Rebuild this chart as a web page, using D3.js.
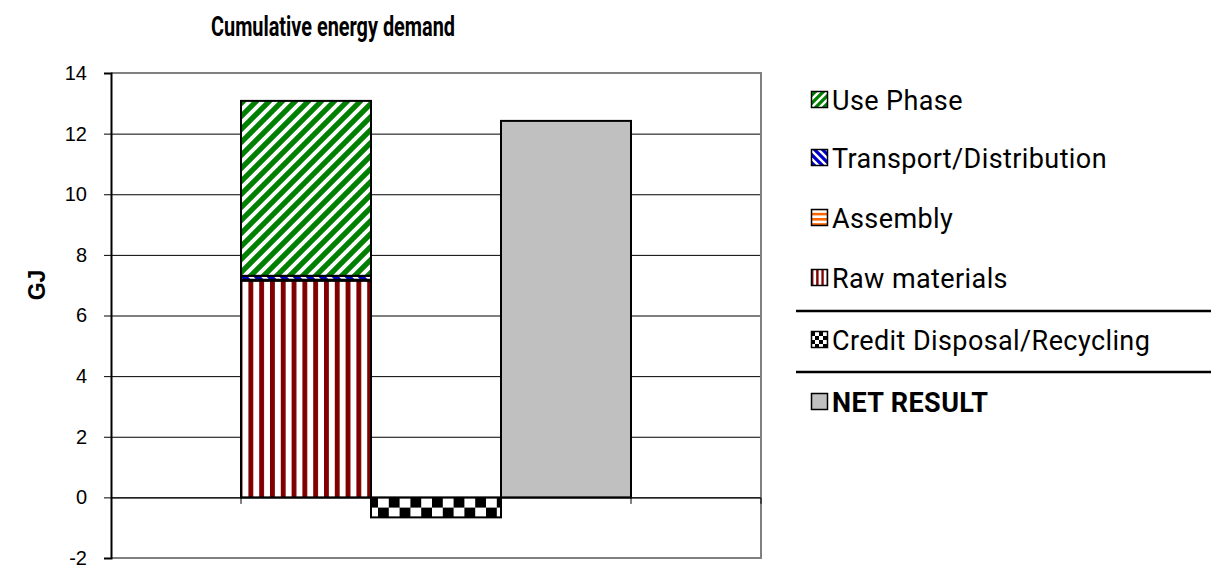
<!DOCTYPE html>
<html>
<head>
<meta charset="utf-8">
<script src="https://cdn.jsdelivr.net/npm/d3@7"></script>
<style>
  body { margin: 0; background: #fff; }
  svg { display: block; }
</style>
</head>
<body>
<script>
// data
const categories = ["gapLeft", "phases", "credit", "net", "gapRight"]
const phaseNames = ["Raw materials", "Assembly", "Transport/Distribution", "Use Phase"]
const phaseValues = [7.15, 0.03, 0.13, 5.77]
const creditName = "Credit Disposal/Recycling"
const creditValue = -0.66
const netName = "NET RESULT"
const netValue = 12.42
const yTicks = [-2, 0, 2, 4, 6, 8, 10, 12, 14]
const legendOrder = ["Use Phase", "Transport/Distribution", "Assembly", "Raw materials", creditName, netName]

const width = 1211, height = 570
const margins = {top: 73, right: 450, bottom: 12, left: 111}
const labelFont = "Roboto, 'Open Sans', sans-serif"

const svg = d3.select('body').append('svg')
  .attr('width', width)
  .attr('height', height)

const x = d3.scaleBand()
  .domain(categories)
  .range([margins.left, width - margins.right])
  .padding(0)

const y = d3.scaleLinear()
  .domain([-2, 14])
  .range([height - margins.bottom, margins.top])

// fill patterns, s = size of one pattern cell
const defs = svg.append('defs')
function makePattern(id, kind, s) {
  const p = defs.append('pattern')
    .attr('id', id)
    .attr('patternUnits', 'userSpaceOnUse')
    .attr('width', s)
    .attr('height', s)
  if (kind == 'use') {
    p.append('rect').attr('width', s).attr('height', s).attr('fill', '#008000')
    p.append('path')
      .attr('d', `M${-s/2},${s/2}L${s/2},${-s/2}M0,${s}L${s},0M${s/2},${s*1.5}L${s*1.5},${s/2}`)
      .attr('stroke', '#fff').attr('stroke-width', s * 0.3)
  } else if (kind == 'transport') {
    p.append('rect').attr('width', s).attr('height', s).attr('fill', '#0000cc')
    p.append('path')
      .attr('d', `M${-s/2},${s/2}L${s/2},${s*1.5}M0,0L${s},${s}M${s/2},${-s/2}L${s*1.5},${s/2}`)
      .attr('stroke', '#fff').attr('stroke-width', s * 0.3)
  } else if (kind == 'assembly') {
    p.append('rect').attr('width', s).attr('height', s).attr('fill', '#fff')
    p.append('rect').attr('width', s).attr('height', s / 2).attr('fill', '#ff6600')
  } else if (kind == 'raw') {
    p.append('rect').attr('width', s).attr('height', s).attr('fill', '#fff')
    p.append('rect').attr('width', s * 0.45).attr('height', s).attr('fill', '#800000')
  } else if (kind == 'credit') {
    p.append('rect').attr('width', s).attr('height', s).attr('fill', '#fff')
    p.append('rect').attr('width', s / 2).attr('height', s / 2).attr('fill', '#000')
    p.append('rect').attr('x', s / 2).attr('y', s / 2).attr('width', s / 2).attr('height', s / 2).attr('fill', '#000')
  }
}
const kinds = {"Use Phase": 'use', "Transport/Distribution": 'transport', "Assembly": 'assembly', "Raw materials": 'raw'}
kinds[creditName] = 'credit'
Object.values(kinds).forEach(k => {
  makePattern(`bar-${k}`, k, k == 'raw' ? 10.8 : k == 'credit' ? 21.6 : k == 'assembly' ? 8 : 13)
  makePattern(`leg-${k}`, k, k == 'raw' ? 5.2 : k == 'credit' ? 8 : k == 'assembly' ? 5.2 : 8)
})
function fillFor(name, prefix) {
  if (name == netName) return '#c0c0c0'
  return `url(#${prefix}-${kinds[name]})`
}

// grid lines
svg.append('g')
  .selectAll('line')
  .data(yTicks.filter(d => d != 14 && d != -2))
  .join('line')
  .attr('x1', margins.left)
  .attr('x2', width - margins.right)
  .attr('y1', d => y(d) + 0.5)
  .attr('y2', d => y(d) + 0.5)
  .attr('stroke', '#000')
  .attr('stroke-width', 1)

// plot frame (top, right, bottom)
svg.append('path')
  .attr('d', `M${margins.left},${y(14)}H${width - margins.right}V${y(-2)}H${margins.left}`)
  .attr('fill', 'none')
  .attr('stroke', '#808080')
  .attr('stroke-width', 2)

// stacked bar
let base = 0
const stackData = phaseValues.map((v, i) => {
  const d = {name: phaseNames[i], y0: base, y1: base + v}
  base += v
  return d
})
svg.append('g')
  .selectAll('rect')
  .data(stackData)
  .join('rect')
  .attr('x', x('phases'))
  .attr('width', x.bandwidth())
  .attr('y', d => y(d.y1))
  .attr('height', d => y(d.y0) - y(d.y1))
  .attr('fill', d => fillFor(d.name, 'bar'))
  .attr('stroke', '#000')
  .attr('stroke-width', 2)

// credit and net bars
svg.append('g')
  .selectAll('rect')
  .data([{cat: 'credit', name: creditName, value: creditValue}, {cat: 'net', name: netName, value: netValue}])
  .join('rect')
  .attr('x', d => x(d.cat))
  .attr('width', x.bandwidth())
  .attr('y', d => y(Math.max(0, d.value)))
  .attr('height', d => Math.abs(y(d.value) - y(0)))
  .attr('fill', d => fillFor(d.name, 'bar'))
  .attr('stroke', '#000')
  .attr('stroke-width', 2)

// x axis on the zero line, ticks on the category edges
const xAxis = svg.append('g')
  .attr('transform', `translate(0, ${y(0) + 0.5})`)
xAxis.append('line')
  .attr('x1', margins.left).attr('x2', width - margins.right)
  .attr('stroke', '#000')
xAxis.selectAll('.edge')
  .data(categories.slice(1).map(c => x(c)).concat([width - margins.right]))
  .join('line')
  .attr('class', 'edge')
  .attr('x1', d => d).attr('x2', d => d)
  .attr('y1', 0).attr('y2', 6)
  .attr('stroke', '#000')

// y axis
const yAxis = svg.append('g')
  .attr('transform', `translate(${margins.left}, 0)`)
  .call(d3.axisLeft(y).tickValues(yTicks).tickSize(7).tickPadding(17).tickFormat(d => String(d)))
yAxis.select('.domain').attr('stroke', '#000').attr('stroke-width', 2)
yAxis.selectAll('.tick line').attr('stroke', '#000')
yAxis.selectAll('.tick text')
  .attr('font-family', "'Liberation Sans', Arial, sans-serif")
  .attr('font-size', 20)
  .attr('fill', '#000')

svg.append('text')
  .attr('transform', `translate(45, 285) rotate(-90)`)
  .attr('text-anchor', 'middle')
  .attr('font-family', "'Liberation Sans', Arial, sans-serif")
  .attr('font-weight', 'bold')
  .attr('font-size', 23)
  .text('GJ')

// title
svg.append('text')
  .attr('x', 333)
  .attr('y', 36)
  .attr('text-anchor', 'middle')
  .attr('font-family', labelFont)
  .attr('font-weight', 'bold')
  .attr('font-size', 27)
  .attr('textLength', 244)
  .attr('lengthAdjust', 'spacingAndGlyphs')
  .text('Cumulative energy demand')

// legend
const legendY = [100, 158, 218, 278, 340, 402]
const legend = svg.append('g')
const rows = legend.selectAll('g')
  .data(legendOrder)
  .join('g')
  .attr('transform', (d, i) => `translate(811, ${legendY[i]})`)
rows.append('rect')
  .attr('x', 0.5).attr('y', -8.5)
  .attr('width', 16).attr('height', 16)
  .attr('fill', d => fillFor(d, 'leg'))
  .attr('stroke', '#000')
  .attr('stroke-width', 1.5)
rows.append('text')
  .attr('x', 21)
  .attr('y', 10)
  .attr('font-family', labelFont)
  .attr('font-size', 27)
  .attr('letter-spacing', 0.4)
  .attr('font-weight', d => d == netName ? 'bold' : 'normal')
  .text(d => d)

legend.selectAll('.sep')
  .data([311, 372])
  .join('line')
  .attr('class', 'sep')
  .attr('x1', 796).attr('x2', width)
  .attr('y1', d => d).attr('y2', d => d)
  .attr('stroke', '#000')
  .attr('stroke-width', 2.5)
</script>
</body>
</html>
